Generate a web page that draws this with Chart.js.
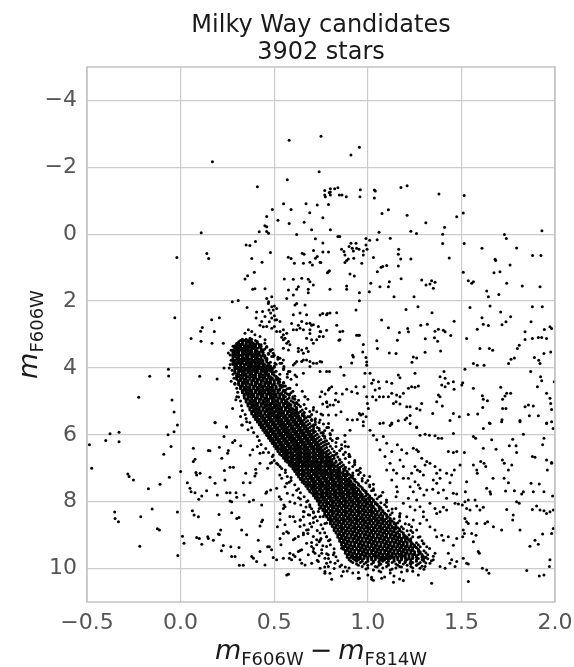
<!DOCTYPE html>
<html><head><meta charset="utf-8">
<script src="https://cdn.jsdelivr.net/npm/chart.js@4/dist/chart.umd.min.js"></script>
<style>html,body{margin:0;padding:0;background:#fff}canvas{display:block}</style>
</head><body>
<canvas id="c" width="574" height="667"></canvas>
<script>
const titleLines = ["Milky Way candidates", "3902 stars"];
const colorTicks = [-0.5, 0, 0.5, 1, 1.5, 2];
const magTicks = [-4, -2, 0, 2, 4, 6, 8, 10];

// bright stars (flat list of colour, magnitude pairs)
const fieldTop = [
.58,-2.81,.75,-2.93,.17,-2.17,.74,-1.87,.57,-1.63,.41,-1.42,.77,-1.31,.80,-1.26,.77,-1.17,.80,-1.17,.49,-.74,.55,-.91,.59,-.74,.67,-.91,.73,-.87,.79,-.89,.46,-.53,.52,-.42,.58,-.32,.69,-.64,.76,-.49,.66,-.36,.45,-.25,.46,-.22,.46,-.08,.47,-.03,.42,-.07,.70,-.13,.62,.01,.11,-.04,.72,.14,.76,.26,.35,.32,.37,.34,.40,.22,-.02,.70,.14,.58,.15,.73,.38,.73,.48,.55,.575,.69,.59,.73,.65,.57,.66,.60,.71,.49,.73,.67,.72,.72,.76,.53,.79,.53,
.91,-2.37,.955,-2.60,.773,-1.12,.794,-1.25,.80,-1.36,.823,-1.36,.84,-1.39,.848,-1.17,.862,-1.17,.885,-1.12,.96,-1.33,.958,-1.12,.80,-.13,.84,.07,.85,.07,.86,.45,.873,.52,.90,.37,.91,.27,.917,.42,.923,.50,.937,.27,.94,.42,.953,.45,.976,.50,.99,.13,.976,.62,.99,.32,.996,.45,.878,.62,.896,.74,.925,.72,1.01,.18,1.05,.17,1.03,.70,1.035,-1.32,1.04,-1.29,1.035,-1.08,1.177,-1.40,1.21,-1.45,1.076,-.62,1.11,-.73,1.21,-.57,1.06,-.06,1.12,.12,1.23,-.09,1.26,-.02,1.31,-.34,1.38,-1.20,1.41,-.21,1.40,0,1.40,.28,1.475,-.52,1.515,-1.16,1.51,-.63,1.515,.28,1.165,.45,1.163,.60,1.176,.74,1.23,.74,1.435,.71,1.61,.42,1.73,.01,1.74,.13,1.795,.41,1.88,.64,1.925,.64,1.93,-.10,1.68,.75
];

// stars between magnitude 0.8 and 4
const fieldMid = [
.063,1.47,-.031,2.50,.056,3.12,.109,3.20,.107,2.90,.116,2.79,.166,2.56,.207,2.50,.18,2.91,.168,3.26,.228,3.26,.276,2.02,.308,1.98,.355,2.19,.435,.84,.344,1.34,.358,1.24,.394,1.14,.385,1.65,.397,1.63,.451,1.63,
.554,1.34,.608,.87,.656,.87,.691,.84,.704,.92,.745,.84,.789,1.12,.602,1.35,.647,1.32,.682,1.35,.691,1.42,.709,1.52,.629,1.57,.62,1.65,.682,1.65,.682,1.75,.602,1.82,.567,1.92,.576,1.67,.487,1.87,.46,1.92,.47,2.02,
.438,2.31,.406,2.33,.451,2.46,.433,2.61,.403,2.51,.46,2.76,.487,2.81,.501,2.76,.513,2.91,.531,2.91,.549,2.86,.567,2.96,.549,3.16,.567,3.26,.54,3.08,.469,2.07,.487,2.17,.501,2.15,.495,2.27,.513,2.22,.472,2.27,.481,2.36,.487,2.51,.501,2.44,.513,2.56,.531,2.61,.362,2.86,.38,2.91,.397,3.01,.424,3.06,.451,3.16,.344,2.96,.371,3.11,.389,3.26,.406,3.21,.43,3.36,.442,3.46,.46,3.36,.478,3.46,.495,3.56,.522,3.71,.531,3.86,.552,3.96,.469,3.56,.487,3.66,.504,3.86,.278,3.76,.29,3.91,.282,3.56,.303,3.41,
.602,2.41,.62,2.07,.611,2.12,.638,2.36,.647,2.61,.665,2.12,.673,2.41,.691,2.66,.709,2.71,.736,2.76,.745,2.91,.78,2.41,.798,2.36,.602,2.86,.62,2.86,.638,2.81,.656,2.86,.691,2.86,.673,3.11,.70,3.16,.727,3.16,.762,3.06,.629,3.41,.647,3.46,.673,3.41,.691,3.81,.709,3.86,.727,3.86,.656,3.76,.62,3.81,.602,3.91,.691,3.96,
.424,2.72,.442,2.77,.474,2.62,.504,2.57,.593,2.67,.629,2.72,.673,2.67,.70,2.72,.691,2.97,.741,3.06,.549,3.01,.558,3.11,.576,3.21,.584,3.31,.549,3.41,.576,3.46,.629,3.51,.656,3.56,.682,3.51,.709,3.26,.78,2.87,.834,2.72,.851,3.16,.851,2.92,.94,3.02,.495,3.66,.531,3.71,.549,3.76,.611,3.86,.647,3.81,.673,3.76,.745,3.81,
.749,.85,.784,1.15,.795,1.09,.878,.85,.887,.79,.905,1.19,.928,1.25,.798,1.65,.887,1.55,.887,1.65,.955,1.75,.955,1.99,.968,.87,1.163,.95,1.051,1.12,1.071,.99,1.08,.97,1.101,.94,1.016,1.47,1.065,1.57,1.11,1.57,1.115,1.42,1.178,1.33,1.008,1.72,1.14,1.87,1.247,1.87,1.288,1.37,1.311,1.52,1.332,1.49,1.341,1.39,1.359,1.44,1.35,1.62,1.51,1.14,1.537,1.39,1.555,1.47,1.564,1.42,1.635,1.70,1.644,1.87,1.674,1.15,1.683,.79,1.706,1.12,1.70,1.80,1.742,1.47,1.76,.92,1.825,1.55,1.92,1.57,
.745,2.42,.759,2.37,.784,2.37,.834,2.35,.937,2.27,.749,2.92,.866,2.90,.846,3.17,.95,3.02,.955,3.02,.976,3.30,.973,3.52,.919,3.62,.923,3.67,.914,3.85,.99,3.69,.994,3.82,.994,3.92,.855,3.97,.754,3.82,1.074,2.57,1.11,2.80,1.169,2.94,1.213,2.82,1.217,2.92,1.204,2.25,1.268,2.17,1.343,2.35,1.283,2.72,1.318,2.69,1.359,2.90,1.377,2.84,1.404,2.87,1.413,2.92,1.443,3.03,1.461,2.60,1.048,3.19,1.051,3.42,1.158,3.17,1.115,3.55,1.151,3.57,1.307,3.13,1.356,3.10,1.373,3.20,1.389,3.49,1.306,3.53,1.243,3.67,1.261,3.70,1.236,3.83,
1.546,2.19,1.653,2.15,1.71,2.33,1.61,2.50,1.617,2.69,1.644,2.73,1.763,2.47,1.738,2.62,1.717,2.71,1.528,3.12,1.585,2.84,1.599,3.42,1.649,3.42,1.667,3.47,1.564,3.87,1.585,3.92,1.621,3.92,1.799,3.42,1.809,3.32,1.752,3.87,1.765,3.74,1.783,3.70,1.84,2.92,1.84,3.15,1.879,3.12,1.911,3.09,1.929,3.09,1.955,3.12,1.943,2.85,1.973,2.77,1.982,2.82,1.872,2.62,1.879,2.17,1.932,2.17,1.89,3.69,1.913,3.77,1.92,3.87,1.941,3.57,1.977,3.52
];

// stars fainter than magnitude 4, away from the main sequence
const fieldLow = [
-.065,4.04,-.064,4.24,-.165,4.25,-.224,4.88,-.046,4.96,-.035,5.32,-.017,5.71,.102,4.25,.195,4.33,.232,4.0,.30,4.26,.29,4.46,.30,4.86,.278,5.21,.326,5.71,.246,5.76,.184,5.63,
.584,4.11,.62,4.26,.656,4.16,.745,4.11,.78,4.11,.789,4.66,.78,5.01,.745,4.86,.709,5.26,.691,5.46,.665,4.86,.62,5.06,.745,5.56,.611,4.21,.576,4.11,.584,4.61,.664,4.86,.727,5.31,.718,5.56,.762,5.96,.798,5.96,.834,6.11,.878,6.21,.896,6.36,.834,6.55,.905,6.65,.878,6.01,.905,5.86,
.795,4.11,.873,4.22,.937,4.56,.985,4.16,1.012,4.16,.754,4.71,.772,4.78,.795,4.61,.807,4.56,.83,4.76,.864,4.78,.887,4.64,.914,4.71,.944,4.76,.759,5.08,.781,5.04,.798,5.11,.784,5.16,.816,5.11,.827,4.96,.843,5.01,.759,5.41,.79,5.41,.83,5.41,.857,5.31,.955,5.36,.962,5.41,.973,5.38,.891,5.54,.918,5.56,.944,5.54,.763,5.68,.781,5.78,.976,5.73,.994,4.86,.998,5.06,1.003,5.21,.991,5.46,.98,4.56,
1.021,4.46,1.03,4.36,1.057,4.41,1.101,4.41,1.128,4.46,1.039,4.66,1.062,4.61,1.062,4.86,1.026,4.86,1.044,4.96,1.083,4.86,1.11,4.86,1.128,4.76,1.154,4.81,1.172,4.86,1.151,5.01,1.137,5.06,1.172,5.08,1.19,4.76,1.217,4.61,1.234,4.56,1.252,4.58,1.27,4.54,1.163,4.21,1.172,4.29,1.252,4.16,1.208,5.16,1.226,5.16,1.261,5.21,1.279,5.26,1.288,5.06,1.347,5.36,1.386,4.26,1.413,4.31,1.407,4.11,1.395,4.51,1.43,4.46,1.413,4.56,1.457,4.41,1.461,4.64,1.386,4.86,1.368,5.01,1.377,4.81,1.398,5.14,1.457,5.36,1.439,5.57,1.489,5.46,1.128,5.65,1.119,5.72,1.083,5.65,1.199,5.55,1.208,5.50,1.226,5.42,1.261,5.77,
1.519,4.04,1.507,4.44,1.502,4.51,1.564,4.61,1.612,4.83,1.617,4.94,1.639,4.98,1.614,5.18,1.537,5.39,1.587,5.38,1.649,5.65,1.71,4.58,1.72,4.94,1.733,4.84,1.742,4.76,1.763,4.76,1.72,5.21,1.738,5.21,1.717,5.55,1.813,5.57,1.84,5.16,1.858,5.11,1.884,5.14,1.87,4.11,1.923,4.26,1.929,4.38,1.906,4.56,1.955,4.76,1.973,4.91,1.977,5.06,1.911,5.43,1.955,5.65,1.982,5.24,1.863,5.43,1.996,4.41,
.976,5.61,1.065,5.66,1.128,5.68,1.163,5.58,1.226,5.66,1.261,5.78,1.279,6.01,1.306,5.98,1.329,6.01,1.359,6.03,1.377,6.10,1.395,6.10,1.457,5.96,1.617,5.81,1.653,5.66,1.715,5.61,1.813,5.61,1.955,5.66,1.982,5.61,1.831,5.98,1.99,5.81,1.564,6.05,1.576,6.10,1.617,6.40,1.662,6.15,1.685,6.43,1.756,6.33,1.774,6.13,1.792,6.33,1.795,6.53,1.879,6.65,1.893,6.67,1.934,6.30,1.941,6.10,1.955,6.75,1.982,6.83,
1.43,6.50,1.457,6.53,1.475,6.50,1.516,6.53,1.528,7.40,1.521,7.70,1.564,6.90,1.582,7.05,1.585,7.15,1.603,6.80,1.621,6.85,1.63,6.95,1.669,7.30,1.719,6.75,1.729,6.85,1.751,7.05,1.769,6.90,1.728,7.30,1.751,7.43,1.736,7.68,1.635,7.60,1.653,7.70,1.656,7.77,1.783,7.67,1.822,7.77,1.831,7.70,1.872,7.45,1.884,7.70,1.916,7.47,1.941,7.70,1.959,7.05,1.982,6.85,1.987,7.83,
1.128,6.50,1.158,6.30,1.181,6.45,1.208,6.55,1.243,6.40,1.261,6.45,1.27,6.50,1.288,6.70,1.315,6.80,1.306,6.90,1.332,6.85,1.359,6.95,1.386,7.05,1.368,7.15,1.252,6.95,1.265,7.05,1.279,7.10,1.297,7.20,1.234,7.15,1.217,7.30,1.252,7.40,1.27,7.50,1.279,7.60,1.19,7.30,1.226,7.55,1.243,7.70,1.154,7.55,1.158,7.70,1.151,7.85,1.217,7.90,1.261,7.95,1.30,7.80,1.315,7.65,1.347,7.63,1.377,7.73,1.404,7.65,1.421,7.90,1.457,7.75,1.475,7.77,1.439,7.43,1.493,6.90,1.462,7.05,1.448,7.20,1.421,7.15,1.386,7.30,1.368,7.45,1.35,7.35,
1.012,5.86,1.03,6.01,1.048,6.15,1.083,6.05,1.101,6.25,1.065,6.45,1.092,6.65,1.119,6.85,1.137,7.05,1.172,6.75,1.101,7.05,1.154,7.15,1.128,7.35,1.19,6.95,
1.466,8.05,1.484,8.07,1.505,8.10,1.519,8.0,1.537,7.95,1.573,7.95,1.528,8.20,1.546,8.25,1.582,8.13,1.617,8.17,1.599,8.25,1.626,8.65,1.64,8.60,1.671,8.75,1.519,8.50,1.528,8.60,1.537,8.65,1.51,8.85,1.516,8.95,1.507,9.05,1.555,8.95,1.582,8.65,1.578,9.0,1.564,9.20,1.596,9.54,1.59,9.49,1.51,9.69,1.528,9.84,1.537,9.86,1.612,9.99,1.635,10.04,1.647,10.14,1.475,9.79,1.466,9.94,1.742,8.23,1.777,8.40,1.795,8.0,1.809,8.05,1.879,8.23,1.902,8.13,1.92,8.25,1.941,8.27,1.955,8.35,1.973,8.30,1.991,8.80,1.982,8.95,1.934,8.97,1.893,9.15,1.911,9.27,1.866,9.33,1.973,9.74,1.97,9.94,1.849,10.06,1.916,10.22,1.941,10.19,1.991,8.25,1.715,8.85,1.813,8.85,1.774,8.55,
1.332,8.05,1.359,8.20,1.386,8.30,1.404,8.17,1.421,8.25,1.332,8.75,1.359,8.85,1.368,9.05,1.395,9.0,1.404,9.15,1.43,9.05,1.457,9.30,1.475,9.10,1.43,9.54,1.448,9.74,1.359,9.54,1.35,9.74,1.332,9.84,1.306,9.94,1.279,9.99,1.386,9.94,1.413,9.99,1.439,9.84,1.368,8.35,1.297,8.45,1.315,8.55,1.279,8.65,
1.19,8.05,1.226,8.15,1.252,8.25,1.208,8.45,1.243,8.55,1.172,8.35,1.279,8.15,1.297,8.30,1.234,8.75,1.261,8.85,1.279,9.05,1.297,9.25,1.315,9.35,1.27,9.49,1.297,9.64,1.226,9.84,
.807,10.32,.955,10.29,1.021,10.32,1.074,10.29,1.137,10.41,1.341,10.44,1.537,10.39
];

// blue side of the main sequence (left of it, fainter than magnitude 5.5)
const blueLobe = [
-.487,6.30,-.475,7.00,-.40,6.17,-.377,5.97,-.329,5.92,-.329,6.21,-.282,7.17,-.275,7.25,-.252,7.35,-.352,8.31,-.35,8.50,-.332,8.60,-.213,8.45,-.218,9.33,-.172,7.61,-.152,8.22,-.124,8.81,-.113,8.85,-.11,7.48,-.09,6.58,-.067,6.0,-.06,7.27,-.051,6.35,-.035,5.91,-.017,8.31,-.015,9.61,0,7.10,.01,9.03,.018,9.24,
.068,6.40,.068,6.80,.077,6.73,.082,7.13,.086,7.20,.104,7.15,.036,7.43,.05,7.60,.056,7.70,.077,7.73,.097,7.93,.113,7.83,.139,7.67,.157,7.27,.148,6.47,.157,6.48,.184,5.64,.184,7.45,.196,7.80,.207,6.37,.22,6.70,.232,6.05,.246,5.77,.251,6.55,.255,6.47,.278,6.23,.29,6.17,.321,6.33,.33,5.71,.353,5.61,
.234,7.07,.264,6.97,.282,6.97,.237,7.35,.246,7.73,.264,7.73,.296,7.73,.264,7.98,.273,8.00,.30,7.87,.339,7.80,.335,7.43,.348,7.15,.371,7.43,.397,7.23,.403,7.15,.401,7.03,.424,6.85,.371,6.60,.385,6.45,.424,6.55,.442,6.53,.465,7.00,.367,8.00,.389,7.95,.433,8.10,.456,7.75,.46,7.70,
.063,8.27,.072,8.40,.095,8.45,.086,9.07,.10,9.10,.113,9.27,.145,9.05,.148,9.10,.175,9.15,.205,8.38,.207,8.98,.202,8.97,.214,8.85,.218,9.47,.228,9.31,.268,9.35,.273,8.33,.30,8.50,.312,8.47,.273,9.64,.291,9.64,.312,9.37,.314,9.90,.335,9.90,.326,8.85,.353,8.99,.38,9.64,.389,9.69,.406,9.79,.424,9.49,.415,9.15,.424,8.73,.433,8.60,.438,8.55,.451,9.89,.465,9.35,.474,9.35,.486,9.44,.495,9.67,.513,9.74,.517,8.75,.531,9.10,.536,9.29,.549,8.95,.567,8.90,.576,10.17,.581,9.69,.593,9.74,.602,9.59,.611,9.10,.629,9.49,.638,9.46,.647,9.84,.656,8.99,.673,8.85,.691,8.65,.709,9.49,.771,10.14,.78,9.84,
.481,7.65,.513,7.60,.527,7.85,.536,7.93,.552,8.10,.558,8.15,.531,8.35,.549,8.20,.584,8.00,.602,8.45,.638,8.55,.656,8.45,.642,8.10,.673,8.00,.691,8.15,.709,8.30,.741,8.20,.745,8.45,.771,8.65,.789,8.40,.78,9.05,.745,9.15,.727,9.29,.754,9.54,.789,9.59,.487,6.83,.495,6.60,.513,6.85,.531,6.95,.558,7.55,.567,7.45,
.531,8.54,.558,8.69,.584,8.44,.611,8.59,.638,8.74,.576,8.94,.602,9.14,.629,9.04,.656,8.94,.682,8.84,.709,9.04,.673,9.24,.70,9.34,.727,9.14,.745,8.94,.647,9.44,.611,9.64,.584,9.54,.549,9.69,.682,9.59,.718,9.54,.754,9.44,.78,9.34,.798,9.14,.771,9.69,.736,9.79,.70,9.84,.665,9.89,.816,9.59,.825,9.84,.789,9.94,.745,9.99,.851,9.94,.638,9.74,.78,8.64,.762,8.44,.736,8.29,.709,8.49,.682,8.39,.656,8.29,.86,9.39,.869,10.09,.798,10.14,.949,10.29,.567,10.19,.771,10.09
];

// scattered stars hugging the edges of the main sequence (colour, magnitude pairs)
const bandEdges = [
.28,3.35,.27,3.47,.265,3.61,.27,3.77,.265,3.9,.275,4.07,.28,4.19,.285,4.31,.29,4.49,.30,4.61,.305,4.73,.31,4.87,.32,4.99,.325,5.13,.33,5.27,.345,5.39,.35,5.51,.37,5.63,.38,5.79,.39,5.93,.41,6.05,.42,6.17,.43,6.29,.455,6.41,.47,6.53,.49,6.65,.50,6.77,.52,6.89,.54,7.01,.56,7.13,.57,7.25,.59,7.37,.61,7.49,.63,7.61,.64,7.73,.66,7.85,.68,7.97,.69,8.09,.70,8.21,.71,8.33,.72,8.45,.73,8.57,.75,8.69,.76,8.81,.77,8.93,.78,9.05,.79,9.17,.80,9.29,.82,9.41,.82,9.53,.83,9.65,.84,9.77,.86,9.89,
.255,3.55,.26,4.0,.27,4.4,.295,4.95,.32,5.45,.36,5.85,.41,6.35,.48,6.85,.54,7.3,.60,7.8,.66,8.3,.70,8.75,.74,9.2,.79,9.7,.82,10.0,
.43,3.31,.45,3.43,.44,3.53,.47,3.59,.46,3.71,.48,3.83,.51,3.89,.49,4.01,.50,4.13,.53,4.19,.51,4.25,.52,4.37,.55,4.43,.55,4.55,.58,4.61,.56,4.67,.58,4.79,.61,4.85,.60,4.91,.62,5.03,.66,5.09,.64,5.15,.67,5.21,.66,5.33,.70,5.39,.68,5.45,.70,5.57,.74,5.63,.72,5.69,.74,5.81,.77,5.87,.76,5.93,.77,6.05,.80,6.11,.81,6.17,.83,6.23,.83,6.35,.86,6.41,.85,6.47,.87,6.59,.90,6.65,.88,6.71,.90,6.83,.93,6.89,.92,6.95,.94,7.07,.96,7.13,.95,7.19,.97,7.31,1.0,7.37,.99,7.43,1.01,7.55,1.03,7.61,1.02,7.67,1.04,7.79,1.06,7.85,1.05,7.91,1.07,8.03,1.09,8.09,1.10,8.15,1.11,8.27,1.13,8.33,1.12,8.39,1.14,8.51,1.17,8.57,1.16,8.63,1.18,8.75,1.19,8.81,1.21,8.87,1.22,8.99,1.24,9.05,1.23,9.11,1.26,9.23,1.27,9.29,1.28,9.35,1.30,9.47,1.31,9.53,1.32,9.59,1.32,9.71,1.34,9.77,1.31,9.83,
1.26,9.89,1.05,9.95,1.18,9.95,.99,10.01,1.13,10.01,1.06,10.07,1.21,10.07,.92,10.13,1.12,10.13,1.0,10.19,1.27,10.19,1.09,10.25,1.17,10.31,.89,10.07,.88,9.95,.86,10.22,1.03,10.35
];

// a looser ring of stars a little further out from the main sequence
const bandHalo = [
.49,3.45,.52,3.68,.50,3.95,.55,4.05,.57,4.28,.54,4.52,.60,4.70,.63,4.97,.62,5.25,.69,5.30,.72,5.52,.71,5.75,.79,5.78,.80,6.00,.78,6.28,.86,6.30,.88,6.52,.85,6.75,.93,6.77,.96,7.00,.92,7.22,1.01,7.25,1.03,7.48,.99,7.70,1.08,7.72,1.10,7.95,1.07,8.18,1.15,8.20,1.17,8.43,1.14,8.66,1.22,8.68,1.24,8.92,1.22,9.15,1.29,9.17,1.33,9.40,1.35,9.63,1.29,9.93,
.45,3.63,.48,3.97,.51,4.33,.56,4.74,.61,5.05,.65,5.42,.71,5.88,.77,6.20,.82,6.62,.88,6.97,.93,7.33,.98,7.66,1.05,8.07,1.09,8.36,1.14,8.78,1.20,9.08,1.26,9.37,1.31,9.66,
.56,7.05,.58,7.42,.62,7.66,.64,7.92,.67,8.16,.69,8.40,.71,8.62,.73,8.86,.75,9.10,.76,9.32,.78,9.56,.80,9.80,.53,7.20,.57,7.75,.61,8.05,.64,8.55,.68,8.95,.71,9.40,.74,9.62,.77,9.95,.59,7.28,.63,7.88,.66,8.70,.70,9.22,.73,9.75,
.95,10.12,1.02,10.26,1.14,10.22,1.24,10.08,1.30,10.02,.90,9.98,1.19,10.36
];

// main sequence: each row is [magnitude, colours...]
const mainSequenceRows = [
[3.14,.33,.35,.38],
[3.18,.32,.34,.36,.37,.40],
[3.22,.31,.33,.35,.36,.38,.41],
[3.26,.30,.31,.33,.35,.37,.38,.41,.45],
[3.3,.30,.32,.33,.35,.37,.39,.40,.42],
[3.34,.29,.31,.32,.34,.36,.38,.40,.42],
[3.38,.29,.30,.32,.34,.35,.37,.39,.40,.42,.46],
[3.42,.29,.31,.33,.34,.36,.38,.39,.41,.43],
[3.46,.28,.30,.32,.33,.35,.37,.38,.40,.43],
[3.5,.28,.29,.31,.33,.34,.36,.38,.40,.41,.43,.48],
[3.54,.28,.30,.31,.33,.35,.37,.38,.40,.42,.44],
[3.58,.28,.29,.31,.33,.34,.36,.37,.39,.41,.42,.44],
[3.62,.28,.30,.32,.33,.35,.36,.38,.40,.42,.44,.50],
[3.66,.28,.29,.31,.33,.35,.36,.38,.39,.41,.43,.45],
[3.7,.28,.30,.31,.33,.34,.36,.38,.40,.41,.43,.45],
[3.74,.28,.30,.32,.33,.35,.37,.38,.40,.42,.43,.46,.52],
[3.78,.28,.29,.31,.33,.34,.36,.38,.39,.41,.43,.44,.46],
[3.82,.28,.30,.32,.33,.35,.37,.39,.40,.42,.44,.46],
[3.86,.28,.29,.31,.33,.35,.36,.38,.40,.41,.43,.44,.47,.54],
[3.9,.28,.30,.32,.34,.35,.37,.38,.40,.42,.44,.45,.47],
[3.94,.29,.30,.32,.34,.36,.37,.39,.41,.42,.44,.46,.48],
[3.98,.29,.31,.33,.34,.36,.38,.40,.41,.43,.45,.47,.50],
[4.02,.29,.30,.32,.34,.35,.37,.39,.41,.42,.44,.46,.48,.55],
[4.06,.29,.31,.33,.35,.36,.38,.40,.41,.43,.45,.47,.49],
[4.1,.29,.31,.32,.34,.36,.37,.39,.41,.43,.44,.46,.48,.51],
[4.14,.29,.31,.33,.34,.36,.38,.40,.41,.43,.45,.46,.49],
[4.18,.30,.31,.33,.35,.37,.38,.40,.42,.43,.45,.47,.49,.57],
[4.22,.30,.32,.34,.35,.37,.39,.40,.42,.44,.46,.47,.50],
[4.26,.30,.31,.33,.35,.36,.38,.40,.42,.43,.45,.47,.48,.51],
[4.3,.30,.32,.33,.35,.37,.39,.40,.42,.44,.45,.47,.49,.52],
[4.34,.30,.32,.34,.35,.37,.39,.41,.42,.44,.46,.48,.49,.53,.59],
[4.38,.31,.32,.34,.36,.38,.39,.41,.43,.44,.46,.48,.50,.52],
[4.42,.31,.33,.35,.36,.38,.40,.41,.43,.45,.47,.48,.50,.53],
[4.46,.31,.33,.34,.36,.38,.40,.41,.43,.45,.46,.48,.50,.52,.55],
[4.5,.31,.33,.35,.37,.38,.40,.42,.43,.45,.47,.49,.50,.53,.62],
[4.54,.32,.33,.35,.37,.39,.40,.42,.44,.45,.47,.49,.51,.53,.56],
[4.58,.32,.34,.36,.37,.39,.41,.43,.44,.46,.48,.49,.51,.54],
[4.62,.32,.34,.35,.37,.39,.41,.42,.44,.46,.47,.49,.51,.53,.57],
[4.66,.33,.34,.36,.38,.40,.41,.43,.45,.46,.48,.50,.52,.53,.55],
[4.7,.33,.35,.37,.38,.40,.42,.44,.45,.47,.49,.50,.52,.55,.65],
[4.74,.33,.35,.36,.38,.40,.42,.43,.45,.47,.48,.50,.52,.54,.56,.59],
[4.78,.34,.35,.37,.39,.41,.42,.44,.46,.47,.49,.51,.53,.54,.57],
[4.82,.34,.36,.38,.39,.41,.43,.44,.46,.48,.50,.51,.53,.55,.58],
[4.86,.34,.36,.37,.39,.41,.43,.44,.46,.48,.49,.51,.53,.55,.56,.60],
[4.9,.34,.36,.38,.40,.41,.43,.45,.46,.48,.50,.52,.53,.55,.58],
[4.94,.35,.36,.38,.40,.42,.43,.45,.47,.49,.50,.52,.54,.55,.57,.61,.68],
[4.98,.35,.37,.39,.40,.42,.44,.46,.47,.49,.51,.52,.54,.56,.59],
[5.02,.35,.37,.38,.40,.42,.44,.45,.47,.49,.50,.52,.54,.56,.57,.60],
[5.06,.36,.37,.39,.41,.43,.44,.46,.48,.49,.51,.53,.55,.56,.58,.61],
[5.1,.36,.38,.40,.41,.43,.45,.47,.48,.50,.52,.53,.55,.57,.59,.63],
[5.14,.36,.38,.39,.41,.43,.45,.46,.48,.50,.51,.53,.55,.57,.58,.61],
[5.18,.37,.38,.40,.42,.44,.45,.47,.49,.50,.52,.54,.56,.57,.59,.62,.71],
[5.22,.37,.39,.41,.42,.44,.46,.48,.49,.51,.53,.54,.56,.58,.60,.62],
[5.26,.37,.39,.40,.42,.44,.46,.47,.49,.51,.52,.54,.56,.58,.59,.61,.65],
[5.3,.38,.39,.41,.43,.45,.46,.48,.50,.51,.53,.55,.57,.58,.60,.62,.64],
[5.34,.38,.40,.42,.43,.45,.47,.49,.50,.52,.54,.55,.57,.59,.61,.63,.66],
[5.38,.38,.40,.41,.43,.45,.47,.48,.50,.52,.53,.55,.57,.59,.60,.62,.65,.75],
[5.42,.39,.40,.42,.44,.46,.47,.49,.51,.52,.54,.56,.58,.59,.61,.63,.66],
[5.46,.39,.41,.43,.44,.46,.48,.50,.51,.53,.55,.56,.58,.60,.62,.63,.66,.69],
[5.5,.40,.41,.43,.45,.47,.48,.50,.52,.53,.55,.57,.59,.60,.62,.64,.67],
[5.54,.40,.42,.44,.45,.47,.49,.51,.52,.54,.56,.57,.59,.61,.63,.64,.66,.70],
[5.58,.41,.42,.44,.46,.48,.49,.51,.53,.54,.56,.58,.60,.61,.63,.65,.68],
[5.62,.41,.43,.45,.46,.48,.50,.52,.53,.55,.57,.58,.60,.62,.64,.65,.67,.72],
[5.66,.42,.43,.45,.47,.49,.50,.52,.54,.55,.57,.59,.61,.62,.64,.66,.69,.79],
[5.7,.42,.44,.46,.47,.49,.51,.53,.54,.56,.58,.59,.61,.63,.65,.66,.68,.71],
[5.74,.43,.44,.46,.48,.50,.51,.53,.55,.56,.58,.60,.62,.63,.65,.67,.70],
[5.78,.43,.45,.47,.48,.50,.52,.54,.55,.57,.59,.60,.62,.64,.66,.67,.69,.73],
[5.82,.44,.45,.47,.49,.51,.52,.54,.56,.57,.59,.61,.63,.64,.66,.68,.71],
[5.86,.44,.46,.48,.49,.51,.53,.55,.56,.58,.60,.61,.63,.65,.67,.68,.70,.74,.81],
[5.9,.45,.46,.48,.50,.52,.53,.55,.57,.58,.60,.62,.64,.65,.67,.69,.72],
[5.94,.45,.47,.49,.50,.52,.54,.56,.57,.59,.61,.62,.64,.66,.68,.69,.71,.75],
[5.98,.46,.47,.49,.51,.53,.54,.56,.58,.59,.61,.63,.65,.66,.68,.70,.73],
[6.02,.46,.48,.50,.51,.53,.55,.57,.58,.60,.62,.63,.65,.67,.69,.70,.72,.76],
[6.06,.47,.48,.50,.52,.54,.55,.57,.59,.60,.62,.64,.66,.67,.69,.71,.74],
[6.1,.47,.49,.51,.52,.54,.56,.58,.59,.61,.63,.64,.66,.68,.70,.71,.73,.77,.84],
[6.14,.48,.49,.51,.53,.55,.56,.58,.60,.61,.63,.65,.67,.68,.70,.72,.75],
[6.18,.48,.50,.52,.53,.55,.57,.59,.60,.62,.64,.65,.67,.69,.71,.72,.74,.78],
[6.22,.49,.50,.52,.54,.56,.57,.59,.61,.62,.64,.66,.68,.69,.71,.73,.76],
[6.26,.49,.51,.53,.54,.56,.58,.60,.61,.63,.65,.66,.68,.70,.72,.73,.75,.79],
[6.3,.50,.51,.53,.55,.57,.58,.60,.62,.63,.65,.67,.69,.70,.72,.74,.77],
[6.34,.50,.52,.54,.55,.57,.59,.61,.62,.64,.66,.67,.69,.71,.73,.74,.76,.80,.88],
[6.38,.51,.52,.54,.56,.58,.59,.61,.63,.64,.66,.68,.70,.71,.73,.75,.78],
[6.42,.51,.53,.55,.56,.58,.60,.62,.63,.65,.67,.68,.70,.72,.74,.75,.77,.81],
[6.46,.52,.54,.55,.57,.59,.61,.62,.64,.66,.67,.69,.71,.73,.74,.76,.79],
[6.5,.52,.54,.56,.57,.59,.61,.63,.64,.66,.68,.69,.71,.73,.75,.76,.78,.82],
[6.54,.53,.55,.56,.58,.60,.62,.63,.65,.67,.68,.70,.72,.74,.75,.77,.80],
[6.58,.53,.55,.57,.59,.60,.62,.64,.66,.67,.69,.71,.72,.74,.76,.78,.79,.83,.90],
[6.62,.54,.56,.57,.59,.61,.63,.64,.66,.68,.69,.71,.73,.75,.76,.78,.81],
[6.66,.55,.56,.58,.60,.62,.63,.65,.67,.68,.70,.72,.74,.75,.77,.79,.80,.84],
[6.7,.55,.57,.59,.60,.62,.64,.66,.67,.69,.71,.72,.74,.76,.78,.79,.82],
[6.74,.56,.57,.59,.61,.63,.64,.66,.68,.69,.71,.73,.75,.76,.78,.80,.81,.85],
[6.78,.56,.58,.60,.62,.63,.65,.67,.68,.70,.72,.73,.75,.77,.79,.80,.83],
[6.82,.57,.59,.60,.62,.64,.66,.67,.69,.71,.72,.74,.76,.78,.79,.81,.83,.86,.93],
[6.86,.58,.59,.61,.63,.65,.66,.68,.70,.71,.73,.75,.77,.78,.80,.82,.85],
[6.9,.58,.60,.62,.63,.65,.67,.69,.70,.72,.74,.75,.77,.79,.81,.82,.84,.87],
[6.94,.59,.61,.62,.64,.66,.68,.69,.71,.73,.74,.76,.78,.80,.81,.83,.86],
[6.98,.60,.61,.63,.65,.67,.68,.70,.72,.73,.75,.77,.79,.80,.82,.84,.85,.88],
[7.02,.60,.62,.63,.65,.67,.68,.70,.72,.74,.75,.77,.79,.80,.82,.84,.85,.87,.90],
[7.06,.61,.62,.64,.66,.68,.69,.71,.73,.74,.76,.78,.80,.81,.83,.85,.88,.95],
[7.1,.61,.63,.65,.66,.68,.70,.72,.73,.75,.77,.78,.80,.82,.84,.85,.87,.89],
[7.14,.62,.63,.65,.67,.69,.71,.72,.74,.76,.77,.79,.81,.83,.84,.86,.89,.92],
[7.18,.62,.64,.66,.68,.69,.71,.73,.75,.76,.78,.80,.81,.83,.85,.87,.88,.90],
[7.22,.63,.65,.66,.68,.70,.72,.73,.75,.77,.79,.80,.82,.84,.85,.87,.89,.91,.98],
[7.26,.63,.65,.67,.69,.70,.72,.74,.76,.77,.79,.81,.83,.84,.86,.88,.91],
[7.3,.64,.65,.67,.69,.71,.73,.74,.76,.78,.80,.81,.83,.85,.86,.88,.90,.92],
[7.34,.64,.66,.68,.70,.71,.73,.75,.77,.78,.80,.82,.84,.85,.87,.89,.90,.93],
[7.38,.65,.66,.68,.70,.72,.74,.75,.77,.79,.81,.82,.84,.86,.88,.89,.91,.93,.97],
[7.42,.65,.67,.69,.71,.72,.74,.76,.78,.79,.81,.83,.85,.86,.88,.90,.91,.94],
[7.46,.66,.68,.69,.71,.73,.75,.76,.78,.80,.82,.83,.85,.87,.89,.90,.92,.95],
[7.5,.67,.68,.70,.72,.74,.75,.77,.79,.81,.82,.84,.86,.88,.89,.91,.93,.95,1.01],
[7.54,.67,.69,.71,.72,.74,.76,.78,.79,.81,.83,.85,.86,.88,.90,.92,.93,.96],
[7.58,.68,.70,.71,.73,.75,.77,.78,.80,.82,.84,.85,.87,.89,.91,.92,.94,.97],
[7.62,.68,.70,.72,.74,.75,.77,.79,.81,.82,.84,.86,.88,.89,.91,.93,.95,.97],
[7.66,.69,.71,.72,.74,.76,.78,.79,.81,.83,.85,.86,.88,.90,.92,.93,.95,.98,1.03],
[7.7,.69,.71,.73,.75,.76,.78,.80,.82,.83,.85,.87,.89,.90,.92,.94,.96,.99],
[7.74,.70,.72,.73,.75,.77,.79,.80,.82,.84,.86,.87,.89,.91,.93,.94,.96,.99],
[7.78,.71,.72,.74,.76,.78,.79,.81,.83,.85,.86,.88,.90,.92,.93,.95,.97,1.0],
[7.82,.71,.73,.75,.76,.78,.80,.82,.83,.85,.87,.89,.90,.92,.94,.96,.97,.99,1.01,1.07],
[7.86,.72,.73,.75,.77,.79,.80,.82,.84,.86,.87,.89,.91,.93,.94,.96,.98,1.01],
[7.9,.72,.74,.76,.77,.79,.81,.83,.84,.86,.88,.90,.91,.93,.95,.97,.98,1.0,1.02],
[7.94,.73,.74,.76,.78,.80,.81,.83,.85,.87,.88,.90,.92,.94,.95,.97,.99,1.01,1.03],
[7.98,.73,.75,.77,.78,.80,.82,.84,.85,.87,.89,.91,.92,.94,.96,.98,.99,1.01,1.03],
[8.02,.74,.75,.77,.79,.81,.82,.84,.86,.88,.89,.91,.93,.95,.96,.98,1.0,1.02,1.04,1.10],
[8.06,.74,.76,.78,.79,.81,.83,.85,.86,.88,.90,.92,.93,.95,.97,.99,1.0,1.02,1.04],
[8.1,.74,.76,.78,.80,.81,.83,.85,.87,.88,.90,.92,.94,.95,.97,.99,1.01,1.02,1.05],
[8.14,.75,.77,.78,.80,.82,.84,.85,.87,.89,.91,.92,.94,.96,.98,.99,1.01,1.03,1.06],
[8.18,.75,.77,.79,.81,.82,.84,.86,.88,.89,.91,.93,.95,.96,.98,1.0,1.02,1.03,1.06],
[8.22,.76,.77,.79,.81,.83,.84,.86,.88,.90,.91,.93,.95,.97,.98,1.0,1.02,1.04,1.07,1.13],
[8.26,.76,.78,.80,.81,.83,.85,.87,.88,.90,.92,.94,.95,.97,.99,1.01,1.02,1.04,1.06,1.08],
[8.3,.77,.78,.80,.82,.84,.85,.87,.89,.91,.92,.94,.96,.98,.99,1.01,1.03,1.05,1.08],
[8.34,.77,.79,.81,.82,.84,.86,.88,.89,.91,.93,.95,.96,.98,1.0,1.02,1.03,1.05,1.07,1.09],
[8.38,.77,.79,.81,.83,.84,.86,.88,.90,.91,.93,.95,.97,.98,1.0,1.02,1.04,1.05,1.07,1.10],
[8.42,.78,.80,.81,.83,.85,.87,.88,.90,.92,.94,.95,.97,.99,1.01,1.02,1.04,1.06,1.08,1.10],
[8.46,.78,.80,.82,.83,.85,.87,.89,.90,.92,.94,.96,.97,.99,1.01,1.03,1.04,1.06,1.08,1.11,1.17],
[8.5,.79,.80,.82,.84,.86,.87,.89,.91,.93,.94,.96,.98,1.0,1.01,1.03,1.05,1.07,1.08,1.10,1.12],
[8.54,.79,.81,.83,.84,.86,.88,.90,.91,.93,.95,.97,.98,1.0,1.02,1.04,1.05,1.07,1.09,1.12],
[8.58,.80,.81,.83,.85,.87,.88,.90,.92,.94,.95,.97,.99,1.01,1.02,1.04,1.06,1.08,1.09,1.11,1.13],
[8.62,.80,.82,.84,.85,.87,.89,.91,.92,.94,.96,.98,.99,1.01,1.03,1.05,1.06,1.08,1.10,1.12,1.14],
[8.66,.80,.82,.84,.86,.87,.89,.91,.93,.94,.96,.98,1.0,1.01,1.03,1.05,1.07,1.08,1.10,1.12,1.15,1.20],
[8.7,.81,.83,.84,.86,.88,.90,.91,.93,.95,.97,.98,1.0,1.02,1.04,1.05,1.07,1.09,1.11,1.12,1.15],
[8.74,.81,.83,.85,.86,.88,.90,.92,.93,.95,.97,.99,1.0,1.02,1.04,1.06,1.07,1.09,1.11,1.13,1.15],
[8.78,.82,.83,.85,.87,.89,.90,.92,.94,.96,.97,.99,1.01,1.03,1.04,1.06,1.08,1.10,1.11,1.13,1.16],
[8.82,.82,.84,.86,.87,.89,.91,.93,.94,.96,.98,1.0,1.01,1.03,1.05,1.07,1.08,1.10,1.12,1.14,1.15,1.17],
[8.86,.82,.84,.86,.88,.89,.91,.93,.95,.96,.98,1.0,1.02,1.03,1.05,1.07,1.09,1.10,1.12,1.14,1.17,1.23],
[8.9,.83,.85,.86,.88,.90,.92,.93,.95,.97,.99,1.0,1.02,1.04,1.06,1.07,1.09,1.11,1.13,1.14,1.16,1.18],
[8.94,.83,.85,.87,.88,.90,.92,.94,.95,.97,.99,1.01,1.02,1.04,1.06,1.08,1.09,1.11,1.13,1.15,1.16,1.19],
[8.98,.84,.85,.87,.89,.91,.92,.94,.96,.98,.99,1.01,1.03,1.05,1.06,1.08,1.10,1.12,1.13,1.15,1.17,1.19],
[9.02,.84,.86,.87,.89,.91,.93,.94,.96,.98,1.0,1.01,1.03,1.05,1.07,1.08,1.10,1.12,1.14,1.15,1.17,1.20],
[9.06,.84,.86,.88,.89,.91,.93,.95,.96,.98,1.0,1.02,1.03,1.05,1.07,1.09,1.10,1.12,1.14,1.16,1.17,1.19,1.21,1.27],
[9.1,.85,.86,.88,.90,.92,.93,.95,.97,.99,1.0,1.02,1.04,1.06,1.07,1.09,1.11,1.13,1.14,1.16,1.18,1.21],
[9.14,.85,.87,.88,.90,.92,.94,.95,.97,.99,1.01,1.02,1.04,1.06,1.08,1.09,1.11,1.13,1.15,1.16,1.18,1.20,1.22],
[9.18,.85,.87,.89,.90,.92,.94,.96,.97,.99,1.01,1.03,1.04,1.06,1.08,1.10,1.11,1.13,1.15,1.17,1.18,1.20,1.23],
[9.22,.86,.87,.89,.91,.93,.94,.96,.98,1.0,1.01,1.03,1.05,1.07,1.08,1.10,1.12,1.14,1.15,1.17,1.19,1.21,1.23],
[9.26,.86,.88,.89,.91,.93,.95,.96,.98,1.0,1.02,1.03,1.05,1.07,1.09,1.10,1.12,1.14,1.16,1.17,1.19,1.21,1.24,1.30],
[9.3,.86,.88,.90,.91,.93,.95,.97,.98,1.0,1.02,1.04,1.05,1.07,1.09,1.11,1.12,1.14,1.16,1.18,1.19,1.21,1.23,1.25],
[9.34,.87,.88,.90,.92,.93,.95,.97,.99,1.0,1.02,1.04,1.06,1.07,1.09,1.11,1.13,1.14,1.16,1.18,1.20,1.21,1.23,1.25],
[9.38,.87,.89,.90,.92,.94,.96,.97,.99,1.01,1.03,1.04,1.06,1.08,1.10,1.11,1.13,1.15,1.17,1.18,1.20,1.22,1.24,1.26],
[9.42,.87,.89,.91,.92,.94,.96,.98,.99,1.01,1.03,1.05,1.06,1.08,1.10,1.12,1.13,1.15,1.17,1.19,1.20,1.22,1.24,1.27],
[9.46,.88,.89,.91,.93,.95,.96,.98,1.0,1.02,1.03,1.05,1.07,1.09,1.10,1.12,1.14,1.16,1.17,1.19,1.21,1.23,1.24,1.27],
[9.5,.88,.90,.91,.93,.95,.97,.98,1.0,1.02,1.04,1.05,1.07,1.09,1.11,1.12,1.14,1.16,1.18,1.19,1.21,1.23,1.25,1.28],
[9.54,.88,.90,.92,.93,.95,.97,.99,1.0,1.02,1.04,1.06,1.07,1.09,1.11,1.13,1.14,1.16,1.18,1.20,1.21,1.23,1.25,1.28],
[9.58,.89,.90,.92,.94,.96,.97,.99,1.01,1.03,1.04,1.06,1.08,1.10,1.11,1.13,1.15,1.17,1.18,1.20,1.22,1.24,1.25,1.27,1.29],
[9.62,.89,.91,.92,.94,.96,.98,.99,1.01,1.03,1.05,1.06,1.08,1.10,1.12,1.13,1.15,1.17,1.19,1.20,1.22,1.24,1.26,1.29],
[9.66,.89,.91,.93,.95,.96,.98,1.0,1.02,1.04,1.05,1.07,1.09,1.11,1.13,1.14,1.16,1.18,1.20,1.22,1.24,1.26,1.29],
[9.7,.90,.92,.94,.96,.98,1.0,1.02,1.04,1.06,1.08,1.10,1.12,1.14,1.16,1.18,1.20,1.22,1.24,1.27,1.30],
[9.74,.90,.93,.95,.97,1.0,1.02,1.04,1.07,1.09,1.11,1.14,1.16,1.18,1.21,1.23,1.26,1.29],
[9.78,.91,.94,.97,1.0,1.03,1.06,1.08,1.11,1.14,1.17,1.20,1.23,1.26,1.30],
[9.82,.92,.96,.99,1.03,1.06,1.10,1.13,1.17,1.20,1.24,1.28],
[9.86,.94,.98,1.02,1.07,1.11,1.15,1.19,1.23,1.27],
[9.9,.95,1.0,1.06,1.11,1.16,1.21,1.26],
[9.94,.97,1.04,1.10,1.17,1.23],
[9.98,1.0,1.08,1.15,1.24],
[10.04,1.03,1.12,1.21],
[10.1,1.07,1.18]
];

const points = [];
function addPairs(list) { for (let i = 0; i + 1 < list.length; i += 2) points.push({x: list[i], y: list[i + 1]}); }
[fieldTop, fieldMid, fieldLow, blueLobe, bandEdges, bandHalo].forEach(addPairs);
mainSequenceRows.forEach(row => { for (let i = 1; i < row.length; i++) points.push({x: row[i], y: row[0]}); });

const FONT = '"DejaVu Sans", "Liberation Sans", sans-serif';
const minus = v => (v < 0 ? '\u2212' : '');

function drawMath(ctx, parts, cx, baseY) {
  const big = 27, small = 18, shift = 6;
  let total = 0;
  parts.forEach(p => {
    ctx.font = (p.it ? 'italic ' : '') + (p.sub ? small : big) + 'px ' + FONT;
    p.w = ctx.measureText(p.t).width + (p.gap || 0) * 2;
    total += p.w;
  });
  let x = cx - total / 2;
  parts.forEach(p => {
    ctx.font = (p.it ? 'italic ' : '') + (p.sub ? small : big) + 'px ' + FONT;
    ctx.fillText(p.t, x + (p.gap || 0), baseY + (p.sub ? shift : 0));
    x += p.w;
  });
}

const decorPlugin = {
  id: 'decor',
  afterDatasetsDraw(chart) {
    const {ctx, chartArea: a} = chart;
    ctx.save();
    ctx.strokeStyle = '#c2c2c2';
    ctx.lineWidth = 1.5;
    ctx.strokeRect(a.left, a.top, a.right - a.left, a.bottom - a.top);
    ctx.restore();
  },
  afterDraw(chart) {
    const {ctx, chartArea: a} = chart;
    const cx = (a.left + a.right) / 2;
    ctx.save();
    ctx.fillStyle = '#1a1a1a';
    ctx.textAlign = 'left';
    ctx.textBaseline = 'alphabetic';
    ctx.font = '24px ' + FONT;
    titleLines.forEach((t, i) => {
      const w = ctx.measureText(t).width;
      ctx.fillText(t, cx - w / 2, 32 + i * 27);
    });
    drawMath(ctx, [
      {t: 'm', it: true}, {t: 'F606W', sub: true}, {t: '\u2212', gap: 6},
      {t: 'm', it: true}, {t: 'F814W', sub: true}
    ], cx, 659);
    ctx.translate(37, (a.top + a.bottom) / 2);
    ctx.rotate(-Math.PI / 2);
    drawMath(ctx, [{t: 'm', it: true}, {t: 'F606W', sub: true}], 0, 0);
    ctx.restore();
  }
};

new Chart(document.getElementById('c').getContext('2d'), {
  type: 'scatter',
  data: {datasets: [{
    data: points, backgroundColor: '#000', borderWidth: 0,
    pointRadius: 1.5, pointHoverRadius: 1.5
  }]},
  options: {
    responsive: false, animation: false, devicePixelRatio: 1,
    events: [],
    layout: {padding: {left: 0, right: 19, top: 67, bottom: 0}},
    plugins: {legend: {display: false}, tooltip: {enabled: false}, title: {display: false}},
    scales: {
      x: {
        type: 'linear', min: -0.5, max: 2.0,
        afterBuildTicks(s) { s.ticks = colorTicks.map(v => ({value: v})); },
        afterFit(s) { s.height = 65; s.paddingLeft = 0; s.paddingRight = 0; },
        ticks: {
          callback: v => minus(v) + Math.abs(v).toFixed(1),
          font: {size: 22, family: FONT}, color: '#555', padding: 8, maxRotation: 0
        },
        grid: {color: '#cccccc', lineWidth: 1.2, drawTicks: false},
        border: {display: false}
      },
      y: {
        type: 'linear', min: -5, max: 11, reverse: true,
        afterBuildTicks(s) { s.ticks = magTicks.map(v => ({value: v})); },
        afterFit(s) { s.width = 87; s.paddingTop = 0; s.paddingBottom = 0; },
        ticks: {
          callback: v => minus(v) + Math.abs(v),
          font: {size: 22, family: FONT}, color: '#555', padding: 10
        },
        grid: {color: '#cccccc', lineWidth: 1.2, drawTicks: false},
        border: {display: false}
      }
    }
  },
  plugins: [decorPlugin]
});
</script>
</body></html>
